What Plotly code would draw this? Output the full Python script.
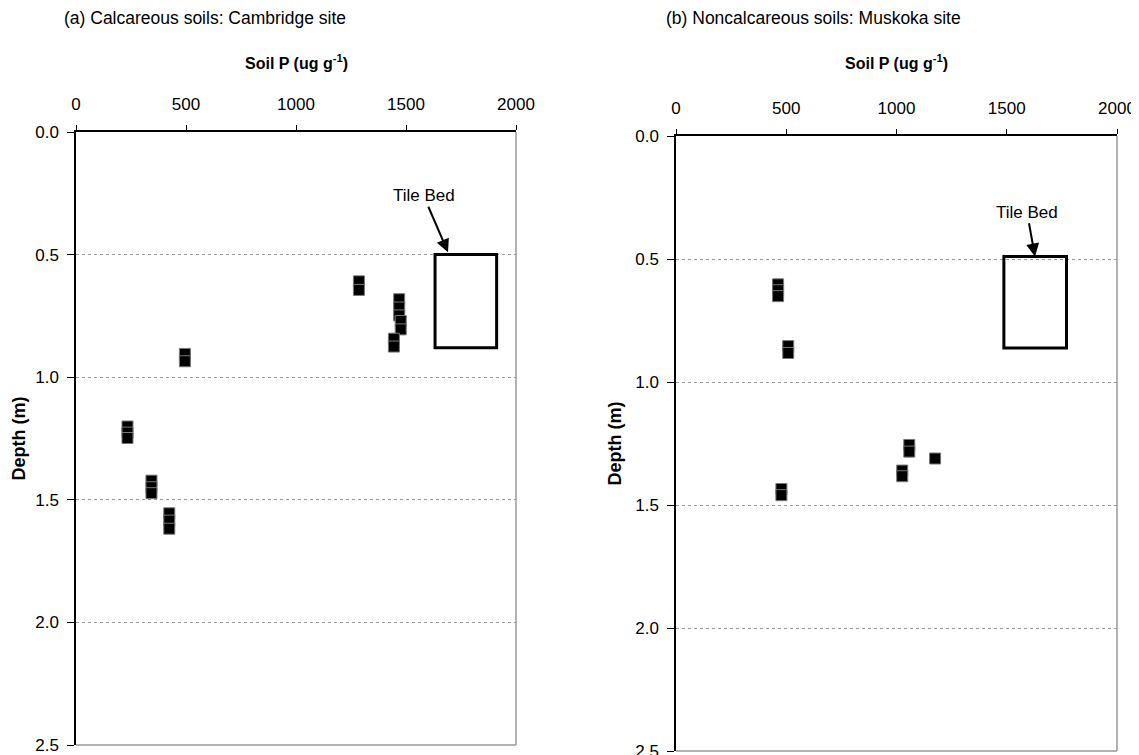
import plotly.graph_objects as go

# page body has an 8px margin, so the figure is drawn 8px in from the corner
OFF = 8
W, H = 1139 - OFF, 755 - OFF

ticks_p = [0, 500, 1000, 1500, 2000]
ticks_depth = [0.0, 0.5, 1.0, 1.5, 2.0, 2.5]

# (a) Calcareous soils: Cambridge site
cam_p = [1286, 1286, 1469, 1469, 1469, 1476, 1476, 1445, 1445, 495, 495,
         234, 234, 234, 343, 343, 343, 424, 424, 424]
cam_depth = [0.609, 0.644, 0.682, 0.716, 0.748, 0.771, 0.805, 0.843, 0.875,
             0.905, 0.935, 1.201, 1.226, 1.248, 1.422, 1.449, 1.473,
             1.555, 1.585, 1.618]

# (b) Noncalcareous soils: Muskoka site
mus_p = [463, 463, 463, 509, 509, 1058, 1058, 1175, 1026, 1026, 478, 478]
mus_depth = [0.603, 0.627, 0.651, 0.854, 0.882, 1.256, 1.283, 1.311,
             1.36, 1.383, 1.435, 1.46]

# tile bed boxes: [p_left, p_right, depth_top, depth_bottom]
tile_cam = [1632, 1912, 0.5, 0.88]
tile_mus = [1487, 1771, 0.49, 0.862]
# label position and arrow head: [text_p, text_depth, head_p, head_depth]
label_cam = [1580, 0.26, 1691, 0.49]
label_mus = [1592, 0.31, 1628, 0.49]

titles = ["(a) Calcareous soils: Cambridge site", "(b) Noncalcareous soils: Muskoka site"]

FONT = "Liberation Sans, Arial, sans-serif"

fig = go.Figure()
marker = dict(symbol="square", size=11, color="black", line=dict(color="#777", width=1))
fig.add_trace(go.Scatter(x=cam_p, y=cam_depth, mode="markers", marker=marker,
                         xaxis="x", yaxis="y", showlegend=False))
fig.add_trace(go.Scatter(x=mus_p, y=mus_depth, mode="markers", marker=marker,
                         xaxis="x2", yaxis="y2", showlegend=False))

# panel positions in page pixels
panels = [
    dict(x0=76, x1=516, ytop=132, ybot=745),
    dict(x0=676, x1=1117, ytop=136, ybot=751),
]

def px(x):
    return (x - OFF) / W

def py(y):
    return 1 - (y - OFF) / H

def xax(p, anchor):
    return dict(domain=[px(p["x0"]), px(p["x1"])], range=[0, 2000], side="top",
                anchor=anchor, tickvals=ticks_p, showline=True, linecolor="black",
                linewidth=1.5, ticks="outside", ticklen=5, tickcolor="black",
                showgrid=False, zeroline=False, tickfont=dict(size=17, color="black"),
                ticklabelstandoff=8, ticklabeloverflow="allow",
                automargin=False, fixedrange=True)

def yax(p, anchor):
    return dict(domain=[py(p["ybot"]), py(p["ytop"])], range=[2.5, 0],
                anchor=anchor, tickvals=ticks_depth, tickformat=".1f", showline=True,
                linecolor="black", linewidth=1.5, ticks="outside", ticklen=7,
                tickcolor="black", showgrid=True, gridcolor="#999999", griddash="dot",
                gridwidth=1, zeroline=False, tickfont=dict(size=17, color="black"),
                ticklabelstandoff=5, ticklabeloverflow="allow",
                automargin=False, fixedrange=True)

fig.update_layout(
    width=W, height=H, margin=dict(l=0, r=0, t=0, b=0),
    paper_bgcolor="white", plot_bgcolor="white",
    font=dict(family=FONT, color="black"),
    xaxis=xax(panels[0], "y"), yaxis=yax(panels[0], "x"),
    xaxis2=xax(panels[1], "y2"), yaxis2=yax(panels[1], "x2"),
)

shapes = []
annotations = []
for i, (p, tile, lab) in enumerate(zip(panels, [tile_cam, tile_mus], [label_cam, label_mus])):
    xr = "x" if i == 0 else "x2"
    yr = "y" if i == 0 else "y2"
    # gray right and bottom borders
    shapes.append(dict(type="line", xref=xr + " domain", yref=yr + " domain",
                       x0=1, x1=1, y0=0, y1=1, line=dict(color="#9a9a9a", width=1.5)))
    shapes.append(dict(type="line", xref=xr + " domain", yref=yr + " domain",
                       x0=0, x1=1, y0=0, y1=0, line=dict(color="#9a9a9a", width=1.5)))
    # tile bed box
    shapes.append(dict(type="rect", xref=xr, yref=yr, x0=tile[0], x1=tile[1],
                       y0=tile[2], y1=tile[3], line=dict(color="black", width=3),
                       fillcolor="rgba(0,0,0,0)"))
    annotations.append(dict(xref=xr, yref=yr, axref=xr, ayref=yr,
                            x=lab[2], y=lab[3], ax=lab[0], ay=lab[1],
                            text="Tile Bed", showarrow=True, arrowhead=2,
                            arrowsize=1.3, arrowwidth=2, arrowcolor="black",
                            font=dict(size=17, color="black")))
    cx = (px(p["x0"]) + px(p["x1"])) / 2
    annotations.append(dict(xref="paper", yref="paper", x=cx, y=py(62),
                            text="<b>Soil P (ug g<sup>-1</sup>)</b>", showarrow=False,
                            font=dict(size=16), xanchor="center", yanchor="middle"))
    annotations.append(dict(xref="paper", yref="paper", x=px(p["x0"] - 57 - 5 * i),
                            y=py((p["ytop"] + p["ybot"]) / 2),
                            text="<b>Depth (m)</b>", showarrow=False, textangle=-90,
                            font=dict(size=18), xanchor="center", yanchor="middle"))
    annotations.append(dict(xref="paper", yref="paper", x=px(p["x0"] - 14 + 2 * i),
                            y=py(18), text=titles[i], showarrow=False,
                            font=dict(size=17.5), xanchor="left", yanchor="middle"))

fig.update_layout(shapes=shapes, annotations=annotations)
fig.write_html("out.html")
